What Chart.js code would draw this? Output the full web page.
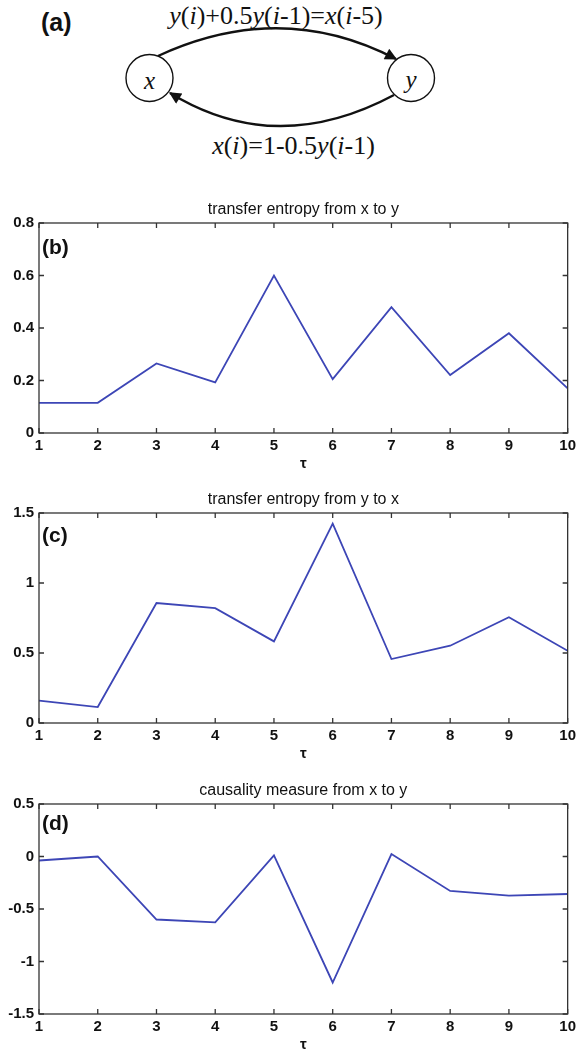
<!DOCTYPE html>
<html>
<head>
<meta charset="utf-8">
<script src="https://cdn.jsdelivr.net/npm/chart.js@4"></script>
<style>
  html, body { margin: 0; padding: 0; background: #fff; }
  body { width: 580px; height: 1054px; position: relative; overflow: hidden; }
  canvas { position: absolute; left: 0; }
  .panel { position: absolute; font-family: 'Liberation Sans', Arial, sans-serif; font-weight: bold; color: #111; line-height: 1; }
  svg { position: absolute; left: 0; top: 0; }
</style>
</head>
<body>
<svg width="580" height="175" viewBox="0 0 580 175">
  <defs>
    <marker id="ah" viewBox="0 0 10 10" refX="9" refY="5" markerUnits="userSpaceOnUse" markerWidth="16" markerHeight="12" orient="auto">
      <path d="M0,0 L10,5 L0,10 z" fill="#111"/>
    </marker>
  </defs>
  <circle cx="149.5" cy="78" r="23.5" fill="none" stroke="#111" stroke-width="1.4"/>
  <circle cx="411" cy="78" r="23.5" fill="none" stroke="#111" stroke-width="1.4"/>
  <path d="M158,56 Q281,-1 396,59" fill="none" stroke="#111" stroke-width="2.4" marker-end="url(#ah)"/>
  <path d="M394,95 Q276,158 170,93" fill="none" stroke="#111" stroke-width="2.4" marker-end="url(#ah)"/>
  <g font-family="'Liberation Serif', 'Times New Roman', serif" font-size="26" fill="#111" text-anchor="middle">
    <text x="276" y="24"><tspan font-style="italic">y</tspan>(<tspan font-style="italic">i</tspan>)+0.5<tspan font-style="italic">y</tspan>(<tspan font-style="italic">i</tspan>-1)=<tspan font-style="italic">x</tspan>(<tspan font-style="italic">i</tspan>-5)</text>
    <text x="293.5" y="154"><tspan font-style="italic">x</tspan>(<tspan font-style="italic">i</tspan>)=1-0.5<tspan font-style="italic">y</tspan>(<tspan font-style="italic">i</tspan>-1)</text>
    <text x="149.5" y="89" font-style="italic" font-size="25">x</text>
    <text x="411" y="88" font-style="italic" font-size="25">y</text>
  </g>
</svg>
<div class="panel" style="left:41px; top:10px; font-size:25px;">(a)</div>

<canvas id="cb" width="580" height="276" style="top:195px"></canvas>
<canvas id="cc" width="580" height="276" style="top:485px"></canvas>
<canvas id="cd" width="580" height="276" style="top:776px"></canvas>
<div class="panel" style="left:42px; top:236px; font-size:21px;">(b)</div>
<div class="panel" style="left:42px; top:524px; font-size:21px;">(c)</div>
<div class="panel" style="left:42px; top:812px; font-size:21px;">(d)</div>

<script>
// ---- data ----
const tau = [1, 2, 3, 4, 5, 6, 7, 8, 9, 10];
const teXtoY = [0.115, 0.115, 0.265, 0.193, 0.600, 0.205, 0.479, 0.221, 0.380, 0.170];
const teYtoX = [0.160, 0.114, 0.857, 0.820, 0.583, 1.424, 0.457, 0.552, 0.755, 0.516];
const causalXtoY = [-0.038, 0.000, -0.600, -0.627, 0.010, -1.200, 0.023, -0.328, -0.373, -0.357];
const xTicks = [1, 2, 3, 4, 5, 6, 7, 8, 9, 10];
const yTicksB = [0, 0.2, 0.4, 0.6, 0.8];
const yTicksC = [0, 0.5, 1, 1.5];
const yTicksD = [-1.5, -1, -0.5, 0, 0.5];
const titleB = 'transfer entropy from x to y';
const titleC = 'transfer entropy from y to x';
const titleD = 'causality measure from x to y';
const xTitle = 'τ';

const SANS = "'Liberation Sans', Arial, sans-serif";
const LINE = '#3d46b6';
const FRAME = '#333';

const framePlugin = {
  id: 'matlabFrame',
  afterDraw(chart) {
    const ctx = chart.ctx;
    const { left, top, right, bottom } = chart.chartArea;
    const xs = chart.scales.x, ys = chart.scales.y;
    const L = 5;
    ctx.save();
    ctx.strokeStyle = FRAME;
    ctx.lineWidth = 1.3;
    ctx.beginPath();
    xs.ticks.forEach(t => {
      const p = xs.getPixelForValue(t.value);
      ctx.moveTo(p, bottom); ctx.lineTo(p, bottom - L);
      ctx.moveTo(p, top); ctx.lineTo(p, top + L);
    });
    ys.ticks.forEach(t => {
      const p = ys.getPixelForValue(t.value);
      ctx.moveTo(left, p); ctx.lineTo(left + L, p);
      ctx.moveTo(right, p); ctx.lineTo(right - L, p);
    });
    ctx.stroke();
    ctx.strokeRect(left, top, right - left, bottom - top);
    ctx.restore();
  }
};

function makeChart(id, values, yTicks, title) {
  const ctx = document.getElementById(id);
  return new Chart(ctx, {
    type: 'line',
    data: {
      datasets: [{
        data: tau.map((t, i) => ({ x: t, y: values[i] })),
        borderColor: LINE,
        borderWidth: 1.8,
        pointRadius: 0,
        tension: 0,
        fill: false
      }]
    },
    options: {
      responsive: false,
      animation: false,
      events: [],
      layout: { padding: { left: 0, right: 12, top: 0, bottom: 0 } },
      plugins: {
        legend: { display: false },
        tooltip: { enabled: false },
        title: {
          display: true,
          text: title,
          fullSize: false,
          color: '#111',
          font: { family: SANS, size: 16, weight: 'normal', lineHeight: '16px' },
          padding: { top: 7, bottom: 5 }
        }
      },
      scales: {
        x: {
          type: 'linear',
          min: xTicks[0],
          max: xTicks[xTicks.length - 1],
          afterBuildTicks: s => { s.ticks = xTicks.map(v => ({ value: v })); },
          afterFit: s => { s.height = 38; },
          grid: { display: false, drawTicks: false },
          border: { display: false },
          ticks: {
            autoSkip: false, maxRotation: 0, padding: 4,
            color: '#111',
            font: { family: SANS, size: 15, weight: 'bold' },
            callback: v => String(v)
          },
          title: {
            display: true, text: xTitle, color: '#111',
            font: { family: SANS, size: 15, weight: 'bold', lineHeight: 1 },
            padding: { top: 0, bottom: 0 }
          }
        },
        y: {
          type: 'linear',
          min: yTicks[0],
          max: yTicks[yTicks.length - 1],
          afterBuildTicks: s => { s.ticks = yTicks.map(v => ({ value: v })); },
          afterFit: s => { s.width = 39; },
          grid: { display: false, drawTicks: false },
          border: { display: false },
          ticks: {
            autoSkip: false, padding: 5,
            color: '#111',
            font: { family: SANS, size: 15, weight: 'bold' },
            callback: v => String(v)
          }
        }
      }
    },
    plugins: [framePlugin]
  });
}

makeChart('cb', teXtoY, yTicksB, titleB);
makeChart('cc', teYtoX, yTicksC, titleC);
makeChart('cd', causalXtoY, yTicksD, titleD);
</script>
</body>
</html>
